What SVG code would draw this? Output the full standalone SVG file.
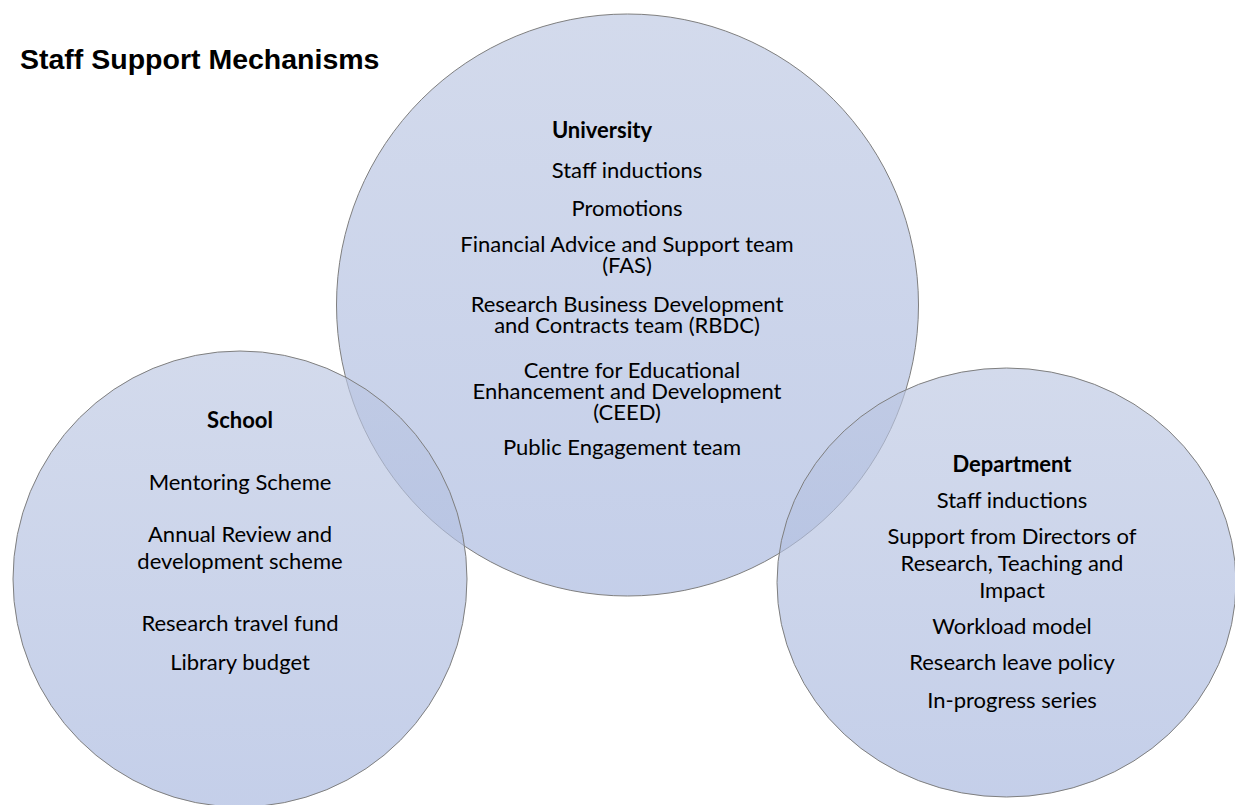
<svg xmlns="http://www.w3.org/2000/svg" width="1235" height="805" viewBox="0 0 1235 805">
  <defs>
    <linearGradient id="discFill" x1="0" y1="0" x2="0" y2="1">
      <stop offset="0" stop-color="#BCC7E2"/>
      <stop offset="1" stop-color="#A6B6DE"/>
    </linearGradient>
  </defs>
  <style>
    .disc { fill: url(#discFill); fill-opacity: 0.66; stroke: #7F7F7F; stroke-width: 1; }
    .title { font-family: "Liberation Sans", Arial, sans-serif; font-weight: bold; font-size: 28.5px; fill: #000; }
    .item { font-family: Lato, "Open Sans", sans-serif; font-size: 22px; fill: #000; text-anchor: middle; }
    .head { font-weight: bold; }
  </style>
  <rect width="1235" height="805" fill="#FFFFFF"/>

  <text class="title" x="20" y="69">Staff Support Mechanisms</text>

  <!-- three overlapping translucent discs -->
  <g id="university">
    <circle class="disc" cx="627.5" cy="305" r="291"/>
  </g>
  <g id="school">
    <ellipse class="disc" cx="240" cy="579" rx="227" ry="228"/>
  </g>
  <g id="department">
    <ellipse class="disc" cx="1006.5" cy="582.5" rx="229.5" ry="214.5"/>
  </g>

  <!-- labels -->
  <g id="university-text">
    <text class="item head" x="602" y="138">University</text>
    <text class="item" x="627" y="178">Staff inductions</text>
    <text class="item" x="627" y="216">Promotions</text>
    <text class="item" x="627" y="252">Financial Advice and Support team</text>
    <text class="item" x="627" y="273">(FAS)</text>
    <text class="item" x="627" y="312">Research Business Development</text>
    <text class="item" x="627" y="333">and Contracts team (RBDC)</text>
    <text class="item" x="632" y="378">Centre for Educational</text>
    <text class="item" x="627" y="399">Enhancement and Development</text>
    <text class="item" x="627" y="420">(CEED)</text>
    <text class="item" x="622" y="455">Public Engagement team</text>
  </g>
  <g id="school-text">
    <text class="item head" x="240" y="428">School</text>
    <text class="item" x="240" y="490">Mentoring Scheme</text>
    <text class="item" x="240" y="542">Annual Review and</text>
    <text class="item" x="240" y="569">development scheme</text>
    <text class="item" x="240" y="631">Research travel fund</text>
    <text class="item" x="240" y="670">Library budget</text>
  </g>
  <g id="department-text">
    <text class="item head" x="1012" y="472">Department</text>
    <text class="item" x="1012" y="508">Staff inductions</text>
    <text class="item" x="1012" y="544">Support from Directors of</text>
    <text class="item" x="1012" y="571">Research, Teaching and</text>
    <text class="item" x="1012" y="598">Impact</text>
    <text class="item" x="1012" y="634">Workload model</text>
    <text class="item" x="1012" y="670">Research leave policy</text>
    <text class="item" x="1012" y="708">In-progress series</text>
  </g>
</svg>
